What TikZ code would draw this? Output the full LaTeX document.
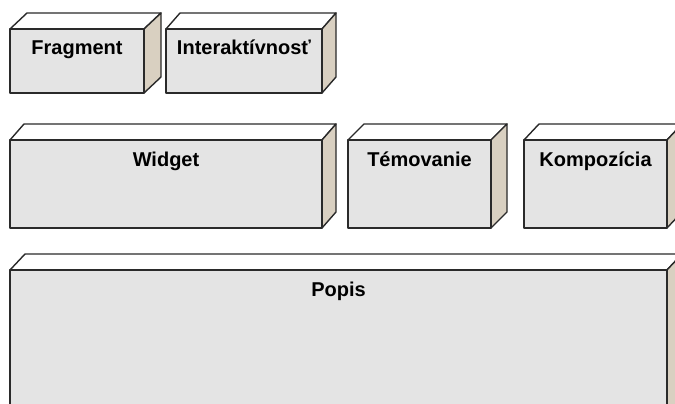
\documentclass[tikz,border=0pt]{standalone}
\usepackage{fontspec}
\setmainfont{Liberation Sans}
\definecolor{frontc}{HTML}{E4E4E4}
\definecolor{sidec}{HTML}{D9D0C1}
\definecolor{edgec}{HTML}{2A2A2A}
\tikzset{
  frontface/.style={draw=edgec, fill=frontc, line width=1.4pt, rectangle, outer sep=0pt, inner sep=0pt, line join=round},
  topface/.style={draw=edgec, fill=white, line width=1.4pt, line join=round},
  sideface/.style={draw=edgec, fill=sidec, line width=1.4pt, line join=round},
  boxlabel/.style={anchor=base, inner sep=0pt, font=\fontsize{20}{22}\selectfont\bfseries, text=black}
}
\newcommand\threedbox[7]{%
  \path[topface] (#2,#3) -- ++(#6,-16) -- ++({#4-#2},0) -- (#4,#3) -- cycle;
  \path[sideface] (#4,#3) -- ++(#6,-16) -- ++(0,{#5-#3}) -- (#4,#5) -- cycle;
  \node[frontface, anchor=north west, minimum width={#4-#2}, minimum height={#5-#3}] (#1) at (#2,#3) {};
  \node[boxlabel] (#1-t) at ([yshift=-26pt]#1.north) {#7};
}
\begin{document}
\begin{tikzpicture}[x=1pt,y=-1pt]
\clip (0,0) rectangle (675,404);
\fill[white] (0,0) rectangle (675,404);
\threedbox{frag}{10}{29}{144}{93}{17}{Fragment}
\threedbox{inter}{166}{29}{322}{93}{14}{Interaktívnosť}
\threedbox{widget}{10}{140}{322}{228}{14}{Widget}
\threedbox{temo}{348}{140}{491}{228}{16}{Témovanie}
\threedbox{komp}{524}{140}{667}{228}{15}{Kompozícia}
\threedbox{popis}{10}{270}{667}{430}{15}{Popis}
\end{tikzpicture}
\end{document}
